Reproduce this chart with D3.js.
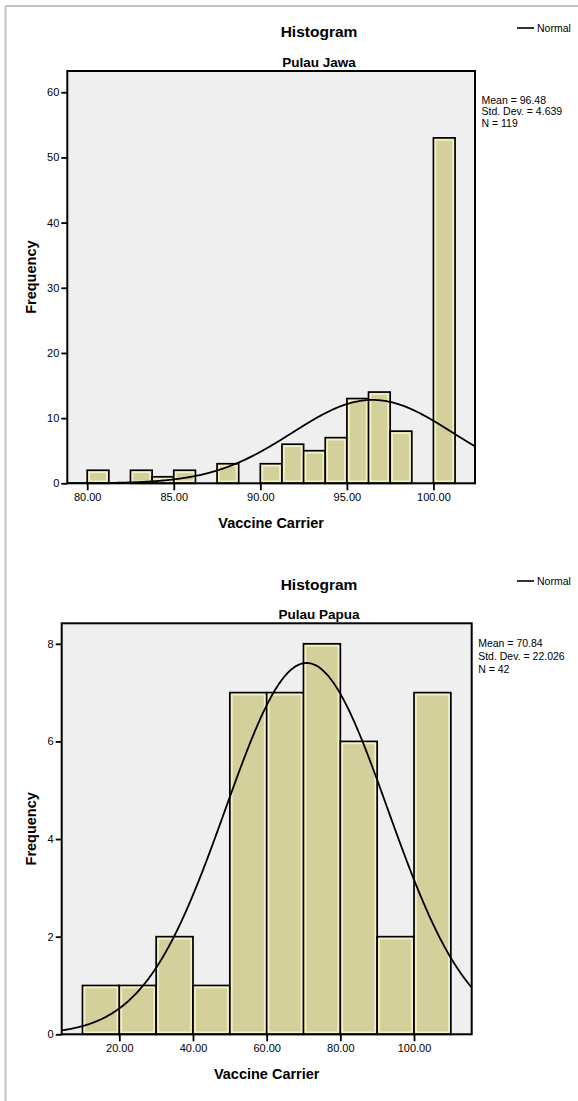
<!DOCTYPE html>
<html>
<head>
<meta charset="utf-8">
<script src="https://cdn.jsdelivr.net/npm/d3@7"></script>
<style>
  html, body { margin: 0; padding: 0; background: #ffffff; }
  svg { display: block; font-family: "Liberation Sans", Arial, sans-serif; }
</style>
</head>
<body>
<svg id="chart" width="578" height="1101"></svg>
<script>
// ---- Pulau Jawa ----
const jawaTitle = "Pulau Jawa";
const jawaBinStarts = [80, 81.25, 82.5, 83.75, 85, 86.25, 87.5, 88.75, 90, 91.25, 92.5, 93.75, 95, 96.25, 97.5, 98.75, 100];
const jawaCounts    = [2, 0, 2, 1, 2, 0, 3, 0, 3, 6, 5, 7, 13, 14, 8, 0, 53];
const jawaBinWidth = 1.25;
const jawaMean = 96.48, jawaSD = 4.639, jawaN = 119;
const jawaStatLabels = ["Mean = 96.48", "Std. Dev. = 4.639", "N = 119"];
const jawaXTicks = [80, 85, 90, 95, 100];
const jawaYTicks = [0, 10, 20, 30, 40, 50, 60];
const jawaXDomain = [78.85, 102.4];
const jawaYDomain = [0, 63.26];

// ---- Pulau Papua ----
const papuaTitle = "Pulau Papua";
const papuaBinStarts = [10, 20, 30, 40, 50, 60, 70, 80, 90, 100];
const papuaCounts    = [1, 1, 2, 1, 7, 7, 8, 6, 2, 7];
const papuaBinWidth = 10;
const papuaMean = 70.84, papuaSD = 22.026, papuaN = 42;
const papuaStatLabels = ["Mean = 70.84", "Std. Dev. = 22.026", "N = 42"];
const papuaXTicks = [20, 40, 60, 80, 100];
const papuaYTicks = [0, 2, 4, 6, 8];
const papuaXDomain = [4.36, 115.66];
const papuaYDomain = [0, 8.42];

const svg = d3.select("#chart");

// page border (top and left edges)
svg.append("line").attr("x1", 5.5).attr("x2", 578).attr("y1", 6).attr("y2", 6)
  .attr("stroke", "#c4c4c4").attr("stroke-width", 2);
svg.append("line").attr("x1", 5.5).attr("x2", 5.5).attr("y1", 6).attr("y2", 1101)
  .attr("stroke", "#c4c4c4").attr("stroke-width", 2);

function histogram(cfg) {
  const { box, title, starts, counts, binWidth, mean, sd, n, stats,
          xTicks, yTicks, xDomain, yDomain, statY, legendY, clipId } = cfg;
  const x = d3.scaleLinear().domain(xDomain).range([box.left, box.right]);
  const y = d3.scaleLinear().domain(yDomain).range([box.bottom, box.top]);
  const g = svg.append("g");
  const cx = 319;

  g.append("text").attr("x", cx).attr("y", box.top - 39).attr("dy", "0.35em")
    .attr("text-anchor", "middle").attr("font-weight", "bold").attr("font-size", 15.5)
    .text("Histogram");
  g.append("text").attr("x", cx).attr("y", box.top - 9).attr("dy", "0.35em")
    .attr("text-anchor", "middle").attr("font-weight", "bold").attr("font-size", 13.5)
    .text(title);

  // legend
  g.append("line").attr("x1", 517).attr("x2", 534).attr("y1", legendY).attr("y2", legendY)
    .attr("stroke", "#000").attr("stroke-width", 1.6);
  g.append("text").attr("x", 537).attr("y", legendY).attr("dy", "0.35em")
    .attr("font-size", 10.5).text("Normal");

  // statistics
  stats.forEach((s, i) => {
    g.append("text").attr("x", box.right + 6.5).attr("y", statY[i]).attr("dy", "0.35em")
      .attr("font-size", 10.5).text(s);
  });

  // plot background
  g.append("rect").attr("x", box.left).attr("y", box.top)
    .attr("width", box.right - box.left).attr("height", box.bottom - box.top)
    .attr("fill", "#efefef");

  g.append("clipPath").attr("id", clipId).append("rect")
    .attr("x", box.left).attr("y", box.top)
    .attr("width", box.right - box.left).attr("height", box.bottom - box.top);

  // bars
  const bins = starts.map((s, i) => ({ x0: s, x1: s + binWidth, c: counts[i] })).filter(d => d.c > 0);
  const bars = g.append("g");
  bars.selectAll("rect.bar").data(bins).join("rect").attr("class", "bar")
    .attr("x", d => x(d.x0)).attr("y", d => y(d.c))
    .attr("width", d => x(d.x1) - x(d.x0)).attr("height", d => y(0) - y(d.c))
    .attr("fill", "#d4d09b").attr("stroke", "#000").attr("stroke-width", 1.7);
  bars.selectAll("rect.hl").data(bins).join("rect").attr("class", "hl")
    .attr("x", d => x(d.x0) + 2).attr("y", d => y(d.c) + 2)
    .attr("width", d => x(d.x1) - x(d.x0) - 4).attr("height", d => y(0) - y(d.c) - 4)
    .attr("fill", "none").attr("stroke", "#f4f1c6").attr("stroke-width", 1.6);

  // fitted normal curve scaled to counts
  const k = n * binWidth / (sd * Math.sqrt(2 * Math.PI));
  const pts = d3.range(0, 401).map(i => {
    const v = xDomain[0] + (xDomain[1] - xDomain[0]) * i / 400;
    return [v, k * Math.exp(-0.5 * ((v - mean) / sd) ** 2)];
  });
  g.append("path").datum(pts)
    .attr("clip-path", `url(#${clipId})`)
    .attr("d", d3.line().x(d => x(d[0])).y(d => y(d[1])).curve(d3.curveBasis))
    .attr("fill", "none").attr("stroke", "#000").attr("stroke-width", 1.8);

  // frame
  g.append("rect").attr("x", box.left).attr("y", box.top)
    .attr("width", box.right - box.left).attr("height", box.bottom - box.top)
    .attr("fill", "none").attr("stroke", "#000").attr("stroke-width", 2);

  // axes
  const xAxis = d3.axisBottom(x).tickValues(xTicks).tickFormat(d3.format(".2f"))
    .tickSize(7).tickSizeOuter(0).tickPadding(3);
  const xa = g.append("g").attr("transform", `translate(0,${box.bottom})`).call(xAxis);
  xa.select(".domain").remove();
  xa.selectAll("line").attr("stroke", "#000").attr("stroke-width", 1.8);
  xa.selectAll("text").attr("font-size", 11).attr("fill", "#000")
    .attr("font-family", "Liberation Sans, Arial, sans-serif");

  const yAxis = d3.axisLeft(y).tickValues(yTicks).tickFormat(d3.format("d"))
    .tickSize(6).tickSizeOuter(0).tickPadding(2);
  const ya = g.append("g").attr("transform", `translate(${box.left},0)`).call(yAxis);
  ya.select(".domain").remove();
  ya.selectAll("line").attr("stroke", "#000").attr("stroke-width", 1.8);
  ya.selectAll("text").attr("font-size", 11).attr("fill", "#000")
    .attr("font-family", "Liberation Sans, Arial, sans-serif");

  // axis titles
  g.append("text").attr("x", (box.left + box.right) / 2).attr("y", box.bottom + 40)
    .attr("dy", "0.35em").attr("text-anchor", "middle")
    .attr("font-weight", "bold").attr("font-size", 14.5).text("Vaccine Carrier");
  g.append("text")
    .attr("transform", `translate(31,${(box.top + box.bottom) / 2}) rotate(-90)`)
    .attr("dy", "0.35em").attr("text-anchor", "middle")
    .attr("font-weight", "bold").attr("font-size", 14.5).text("Frequency");
}

histogram({
  box: { left: 67.3, right: 475, top: 71, bottom: 483.3 },
  title: jawaTitle, starts: jawaBinStarts, counts: jawaCounts, binWidth: jawaBinWidth,
  mean: jawaMean, sd: jawaSD, n: jawaN, stats: jawaStatLabels,
  xTicks: jawaXTicks, yTicks: jawaYTicks, xDomain: jawaXDomain, yDomain: jawaYDomain,
  statY: [100, 111.7, 123], legendY: 28, clipId: "clip-jawa"
});

histogram({
  box: { left: 61.7, right: 471.7, top: 623.3, bottom: 1034.3 },
  title: papuaTitle, starts: papuaBinStarts, counts: papuaCounts, binWidth: papuaBinWidth,
  mean: papuaMean, sd: papuaSD, n: papuaN, stats: papuaStatLabels,
  xTicks: papuaXTicks, yTicks: papuaYTicks, xDomain: papuaXDomain, yDomain: papuaYDomain,
  statY: [643.3, 656.5, 669.5], legendY: 581, clipId: "clip-papua"
});
</script>
</body>
</html>
